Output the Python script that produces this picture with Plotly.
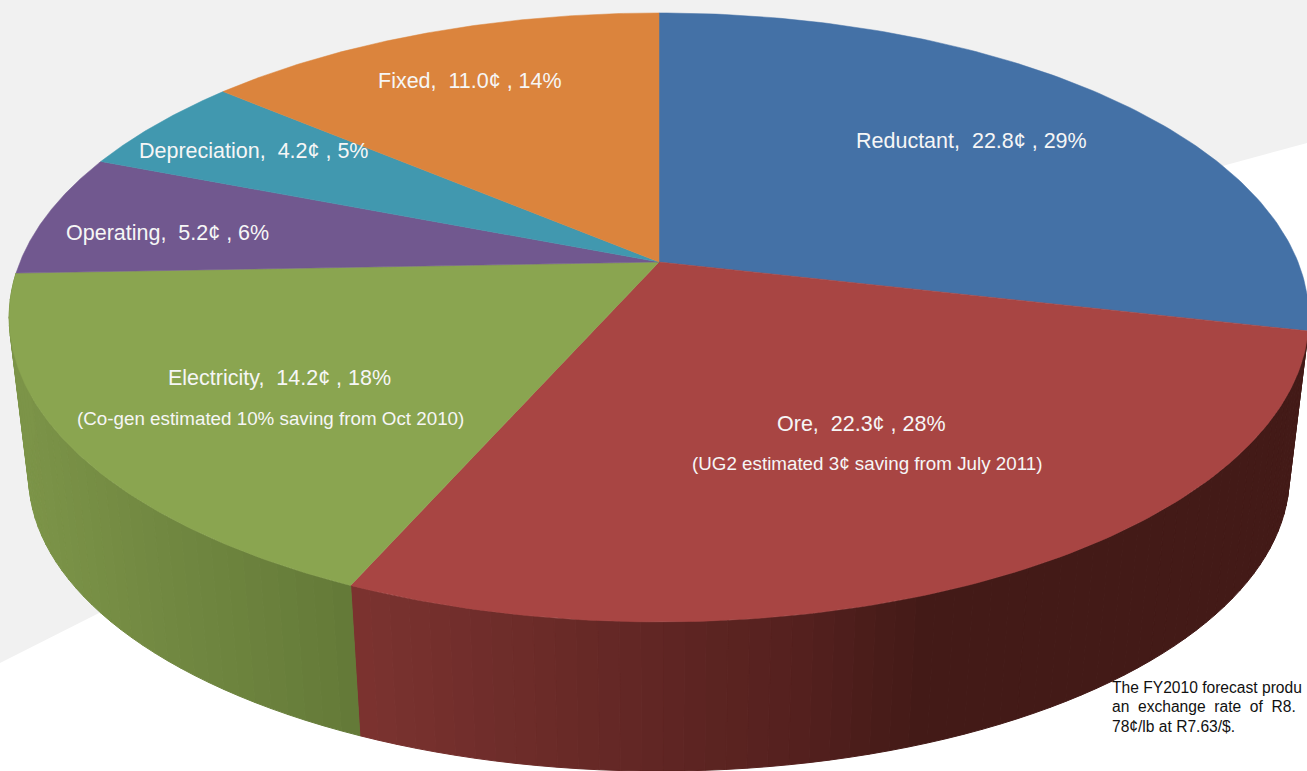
import numpy as np
import plotly.graph_objects as go

# ---- data ----
categories = ["Reductant", "Ore", "Electricity", "Operating", "Depreciation", "Fixed"]
cents = [22.8, 22.3, 14.2, 5.2, 4.2, 11.0]
percents = [29, 28, 18, 6, 5, 14]
notes = ["", "(UG2 estimated 3¢ saving from July 2011)", "(Co-gen estimated 10% saving from Oct 2010)", "", "", ""]
note_lines = ["The FY2010 forecast produ", "an\u00a0\u00a0exchange\u00a0\u00a0rate\u00a0\u00a0of\u00a0\u00a0R8.", "78¢/lb at R7.63/$."]

# ---- styles ----
top_colors = ["#4471a6", "#a84543", "#8aa550", "#71588f", "#4198af", "#db843d"]
# side shading: (x position, rgb) stops for the two visible walls
side_stops = {
    1: ([350, 800, 920], [(124, 51, 48), (84, 32, 30), (67, 26, 23)]),
    2: ([20, 350], [(124, 148, 72), (100, 122, 56)]),
}
label_pos = {"Reductant": (971, 141), "Ore": (861, 424), "Electricity": (279, 378),
             "Operating": (167, 233), "Depreciation": (253, 151), "Fixed": (470, 81)}
note_pos = {"Ore": (867, 463), "Electricity": (270, 418)}

W, H = 1307, 771
CX, CY, A, B, K = 659, 262, 639, 294.4, 0.182     # perspective of the top face
BOTTOM_SCALE, BOTTOM_CY = 0.97, 422               # perspective of the lower rim


def project(theta, scale=1.0, cy=CY):
    u, v = np.sin(theta), -np.cos(theta)
    d = 1 - K * v
    return CX + scale * A * u / d, cy + scale * B * v / d


total = sum(cents)
edges = np.concatenate([[0], np.cumsum(cents)]) / total * 2 * np.pi

fig = go.Figure()

# side walls as thin vertical-shaded strips
for i, (xs_stop, rgb_stop) in side_stops.items():
    a0, a1 = edges[i], edges[i + 1]
    grid = np.linspace(a0, a1, 64 if i == 1 else 40)
    for t0, t1 in zip(grid[:-1], grid[1:]):
        tt = np.linspace(t0, t1, 3)
        x1, y1 = project(tt)
        x2, y2 = project(tt[::-1], BOTTOM_SCALE, BOTTOM_CY)
        xm = (x1.mean() + x2.mean()) / 2
        rgb = [int(round(np.interp(xm, xs_stop, [c[j] for c in rgb_stop]))) for j in range(3)]
        col = f"rgb({rgb[0]},{rgb[1]},{rgb[2]})"
        fig.add_trace(go.Scatter(x=np.r_[x1, x2, x1[0]], y=np.r_[y1, y2, y1[0]], mode="lines",
                                 fill="toself", fillcolor=col, line=dict(color=col, width=1),
                                 hoverinfo="skip", showlegend=False))

# top face slices
for i, cat in enumerate(categories):
    tt = np.linspace(edges[i], edges[i + 1], 120)
    x, y = project(tt)
    fig.add_trace(go.Scatter(x=np.r_[CX, x, CX], y=np.r_[CY, y, CY], mode="lines", name=cat,
                             fill="toself", fillcolor=top_colors[i],
                             line=dict(color=top_colors[i], width=0.5),
                             hoverinfo="skip", showlegend=False))

annotations = []
for cat, c, p, note in zip(categories, cents, percents, notes):
    lx, ly = label_pos[cat]
    annotations.append(dict(x=lx, y=ly, text=f"{cat},\u00a0\u00a0{c:.1f}¢\u00a0,\u00a0{p}%", showarrow=False,
                            font=dict(family="Liberation Sans", size=21.5, color="#f6f6f6")))
    if note:
        nx, ny = note_pos[cat]
        annotations.append(dict(x=nx, y=ny, text=note, showarrow=False,
                                font=dict(family="Liberation Sans", size=18.8, color="#f6f6f6")))
for line, ny in zip(note_lines, [687, 706, 726]):
    annotations.append(dict(x=1110, y=ny, text=line, showarrow=False, xanchor="left",
                            font=dict(family="Liberation Sans", size=15.6, color="#111111")))

fig.update_layout(
    width=W, height=H, margin=dict(l=0, r=0, t=0, b=0),
    paper_bgcolor="white", plot_bgcolor="white", showlegend=False,
    xaxis=dict(range=[0, W], visible=False, fixedrange=True),
    yaxis=dict(range=[H, 0], visible=False, fixedrange=True),
    annotations=annotations,
    shapes=[dict(type="path", layer="below", line=dict(width=0), fillcolor="#f1f1f1",
                 path="M0,0 L1307,0 L1307,143 L1226,165 L105,610 L0,663 Z")],
)
fig.write_html("out.html", config={"displayModeBar": False},
               post_script="document.body.style.margin='0';")
